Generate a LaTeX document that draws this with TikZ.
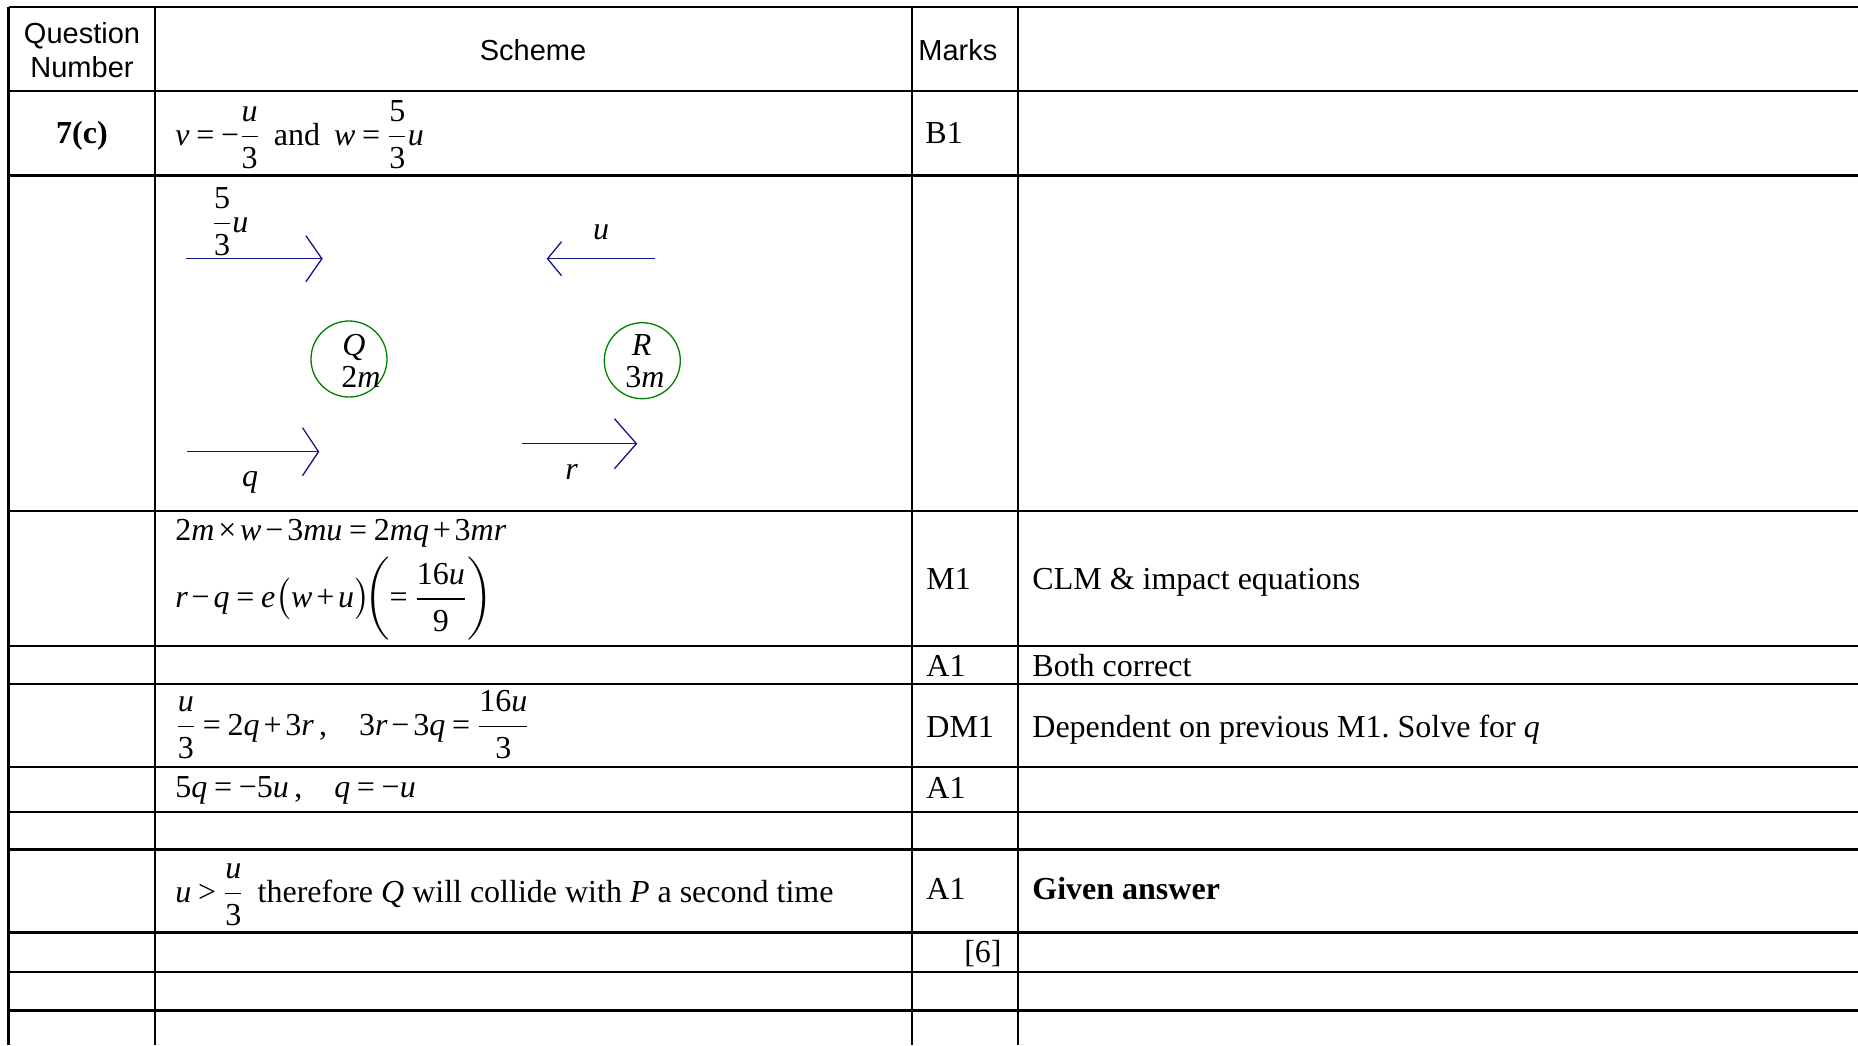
\documentclass[tikz,border=0pt]{standalone}
\usepackage{amsmath}
\usepackage[no-math]{fontspec}
\setmainfont{Liberation Serif}
\setsansfont{Liberation Sans}
\DeclareSymbolFont{letters}{TU}{\rmdefault}{m}{it}
\DeclareSymbolFont{operators}{TU}{\rmdefault}{m}{n}
\Umathcode`\-="2 "0 "2212
\Umathcode`\>="3 "0 "003E
\Umathchardef\times="2 "0 "00D7
\frenchspacing
\usetikzlibrary{
  arrows.meta,
  positioning
}
\definecolor{velblue}{RGB}{20,20,140}
\definecolor{ballgreen}{RGB}{0,128,0}

\begin{document}
\medmuskip=2mu plus 1mu minus 1mu
\thickmuskip=3.5mu plus 1mu
\begin{tikzpicture}[
  x=0.5pt, y=-0.5pt,
  rule/.style={line width=1.1pt},
  head/.style={font=\sffamily\fontsize{14.5}{17.2}\selectfont, inner sep=0pt, align=center},
  txt/.style={font=\fontsize{16}{19}\selectfont, inner sep=0pt, anchor=base west},
  lbl/.style={font=\fontsize{16}{19}\selectfont, inner sep=0pt},
  ball/.style={circle, draw=ballgreen, line width=0.65pt, minimum size=38pt, inner sep=0pt},
  vel/.style={velblue, line width=0.65pt}
]
  \useasboundingbox (0,0) rectangle (1858,1045);

  % table rules
  \foreach \y in {7,91,175.5,511,645.7,684,766.7,811.7,849.5,932.5,971.8,1010.4}
    \draw[rule] (8.5,\y) -- (1858,\y);
  \foreach \x in {8.5,155.3,911.7,1017.7}
    \draw[rule] (\x,7) -- (\x,1045);

  % header
  \node[head] (qnum) at (82,50) {Question\\Number};
  \node[head] (scheme) at (533,50) {Scheme};
  \node[head, anchor=west] (marks) at (918,50) {Marks};

  % 7(c)
  \node[txt, anchor=base] (qno) at (82,143) {\textbf{7(c)}};
  \node[txt] (vw) at (175,145) {$v=-\dfrac{u}{3}$\hspace{3pt} and\hspace{3pt} $w=\dfrac{5}{3}u$};
  \node[txt] (mkB) at (925,143) {B1};

  % diagram
  \node[ball] (Q) at (349,359) {};
  \node[lbl] (Qname) at (354,347) {$Q$};
  \node[lbl] (Qmass) at (361,377) {$2m$};
  \node[ball] (R) at (642.3,360.7) {};
  \node[lbl] (Rname) at (641.7,345) {$R$};
  \node[lbl] (Rmass) at (645,377) {$3m$};

  \coordinate (wA) at (186,258.7);
  \coordinate (wB) at (322.7,258.7);
  \coordinate (uA) at (655,258.7);
  \coordinate (uB) at (546.7,258.7);
  \coordinate (qA) at (187,451.7);
  \coordinate (qB) at (319.3,451.7);
  \coordinate (rA) at (521.7,443.7);
  \coordinate (rB) at (637.3,443.7);

  \draw[vel, -{Straight Barb[length=8pt,width=23pt]}] (wA) -- (wB);
  \draw[vel, -{Straight Barb[length=7pt,width=17pt]}] (uA) -- (uB);
  \draw[vel, -{Straight Barb[length=8pt,width=24pt]}] (qA) -- (qB);
  \draw[vel, -{Straight Barb[length=11pt,width=25pt]}] (rA) -- (rB);

  \node[lbl] (wlbl) at (230,222) {$\dfrac{5}{3}u$};
  \node[lbl] (ulbl) at (601,232) {$u$};
  \node[lbl] (qlbl) at (250,482) {$q$};
  \node[lbl] (rlbl) at (571.7,472) {$r$};

  % working
  \node[txt] (clm) at (175,540) {$2m\times w-3mu=2mq+3mr$};
  \node[txt] (nel) at (175,607.5) {$r-q=e\bigl(w+u\bigr)\mkern-6mu\left(=\dfrac{16u}{9}\right)$};
  \node[txt] (mkM) at (926,589) {M1};
  \node[txt] (cmM) at (1032,589) {CLM \& impact equations};
  \node[txt] (mkA) at (926,676) {A1};
  \node[txt] (cmA) at (1032,676) {Both correct};
  \node[txt] (solve) at (175,735) {$\dfrac{u}{3}=2q+3r$\,,\quad$3r-3q=\dfrac{16u}{3}$};
  \node[txt] (mkD) at (926,737) {DM1};
  \node[txt] (cmD) at (1032,737) {Dependent on previous M1. Solve for $q$};
  \node[txt] (qval) at (175,797) {$5q=-5u$\,,\quad$q=-u$};
  \node[txt] (mkA2) at (926,798) {A1};
  \node[txt] (concl) at (175,902) {$u>\dfrac{u}{3}$\hspace{3pt} therefore $Q$ will collide with $P$ a second time};
  \node[txt] (mkA3) at (926,899) {A1};
  \node[txt] (cmA3) at (1032,899) {\textbf{Given answer}};
  \node[txt, anchor=base east] (total) at (1002,962) {[6]};
\end{tikzpicture}
\end{document}
